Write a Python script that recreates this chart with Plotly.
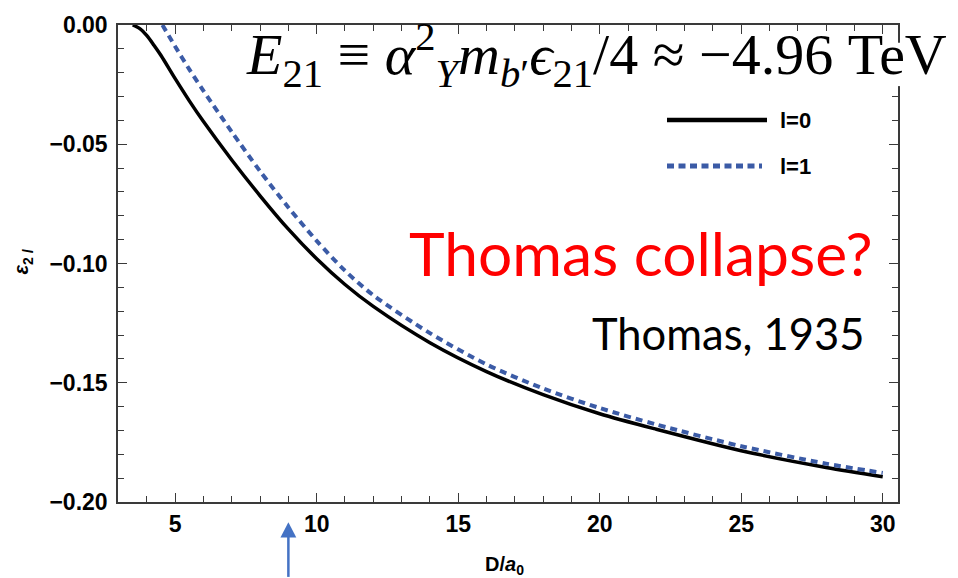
import plotly.graph_objects as go

# Lowest-level energies eps_{2l} vs separation D/a0
d_l0 = [3.5, 3.75, 4.0, 4.25, 4.5, 5.0, 5.5, 6.0, 7.0, 8.0, 9.0, 10, 11, 12, 14, 16, 18, 20,
        22, 25, 28, 30]
eps_l0 = [0.0, -0.0015, -0.0045, -0.0085, -0.0128, -0.0225, -0.0318, -0.0405, -0.0566,
          -0.0716, -0.0856, -0.0980, -0.1088, -0.1180, -0.1332, -0.1453, -0.1550, -0.1630,
          -0.1695, -0.1785, -0.1855, -0.1894]

d_l1 = [4.55, 5.0, 5.5, 6.0, 7.0, 8.0, 9.0, 10, 11, 12, 14, 16, 18, 20, 22, 25, 28, 30]
eps_l1 = [0.0, -0.0090, -0.0186, -0.0276, -0.0448, -0.0613, -0.0765, -0.0905, -0.1030,
          -0.1133, -0.1292, -0.1423, -0.1524, -0.1606, -0.1675, -0.1766, -0.1839, -0.1878]

x_ticks = [5, 10, 15, 20, 25, 30]
y_ticks = [0.0, -0.05, -0.10, -0.15, -0.20]
y_tick_text = ["0.00", "\u22120.05", "\u22120.10", "\u22120.15", "\u22120.20"]

marked_d = 9.0  # separation marked with the arrow under the axis

BLUE = "#3b5ba6"
ARROW = "#4472c4"
AXIS = "#3a3a3a"

W, H = 958, 578
ML, MR, MT, MB = 118, 60, 18, 76
PW, PH = W - ML - MR, H - MT - MB


def px(xp):
    return (xp - ML) / PW


def py(yp):
    return (H - MB - yp) / PH


fig = go.Figure()
fig.add_trace(go.Scatter(x=d_l0, y=eps_l0, mode="lines", name="l=0",
                         line=dict(color="black", width=3.5, shape="spline", smoothing=0.8)))
fig.add_trace(go.Scatter(x=d_l1, y=eps_l1, mode="lines", name="l=1",
                         line=dict(color=BLUE, width=4, dash="7px,5px", shape="spline", smoothing=0.8)))

tickfont = dict(family="Liberation Sans, Arial", size=23, color="black")
axis_common = dict(showline=True, linecolor=AXIS, linewidth=1.5, mirror="ticks",
                   ticks="inside", ticklen=9, tickwidth=1.3, tickcolor=AXIS,
                   showgrid=False, zeroline=False, tickfont=tickfont)

fig.update_xaxes(range=[2.98, 30.54], tickmode="array", tickvals=x_ticks,
                 ticktext=[f"<b>{v}</b>" for v in x_ticks], ticklabelstandoff=1,
                 minor=dict(dtick=1, tick0=0, ticks="inside", ticklen=6, tickcolor=AXIS, tickwidth=1.2),
                 **axis_common)
fig.update_yaxes(range=[-0.2, 0.0], tickmode="array", tickvals=y_ticks,
                 ticktext=[f"<b>{t}</b>" for t in y_tick_text], ticklabelstandoff=4,
                 minor=dict(dtick=0.01, tick0=0, ticks="inside", ticklen=6, tickcolor=AXIS, tickwidth=1.2),
                 **axis_common)

shapes = [
    # hand-drawn legend samples
    dict(type="line", xref="paper", yref="paper", x0=px(667), x1=px(767), y0=py(114.5), y1=py(114.5),
         line=dict(color="black", width=4.5)),
    dict(type="line", xref="paper", yref="paper", x0=px(667), x1=px(762), y0=py(161), y1=py(161),
         line=dict(color=BLUE, width=5, dash="7px,4.5px")),
    # white patch behind the formula where it crosses the right frame
    dict(type="rect", xref="paper", yref="paper", x0=px(890), x1=px(905), y0=py(80), y1=py(36),
         fillcolor="white", line=dict(width=0), layer="above"),
    # arrow under the axis
    dict(type="line", xref="x", yref="paper", x0=marked_d, x1=marked_d, y0=py(578), y1=py(536),
         line=dict(color=ARROW, width=2.5)),
    dict(type="path", xref="x", yref="paper",
         path=f"M {marked_d - 0.28} {py(538)} L {marked_d} {py(522.5)} L {marked_d + 0.28} {py(538)} Z",
         fillcolor=ARROW, line=dict(color=ARROW, width=0)),
]

annotations = [
    dict(text="<b>l=0</b>", xref="paper", yref="paper", x=px(778), y=py(115), xanchor="left",
         yanchor="middle", showarrow=False, font=dict(family="Liberation Sans, Arial", size=22, color="black")),
    dict(text="<b>l=1</b>", xref="paper", yref="paper", x=px(778), y=py(162), xanchor="left",
         yanchor="middle", showarrow=False, font=dict(family="Liberation Sans, Arial", size=22, color="black")),
    dict(text="<b>D/<i>a</i><sub>0</sub></b>", xref="paper", yref="paper", x=px(504), y=py(566),
         xanchor="center", yanchor="middle", showarrow=False,
         font=dict(family="Liberation Sans, Arial", size=20, color="black")),
    dict(text="<b><i>ε</i><sub>2 <i>l</i></sub></b>", xref="paper", yref="paper", x=px(23), y=py(258),
         xanchor="center", yanchor="middle", textangle=-90, showarrow=False,
         font=dict(family="Liberation Sans, Arial", size=20, color="black")),
    dict(text="<i>E</i><sub>21</sub> \u2261 <i>α</i><sup>2</sup><sub><i>Y</i></sub><i>m</i><sub><i>b</i>\u2032</sub>"
              "<i>ϵ</i><sub>21</sub>/4 \u2248 \u22124.96 TeV",
         xref="paper", yref="paper", x=px(596), y=py(48), xanchor="center", yanchor="middle",
         showarrow=False,
         font=dict(family="Liberation Serif, Times New Roman, serif", size=58, color="black")),
    dict(text="Thomas collapse?", xref="paper", yref="paper", x=px(875), y=py(249), xanchor="right",
         yanchor="middle", showarrow=False, font=dict(family="Lato", size=60.5, color="#ff0000")),
    dict(text="Thomas, 1935", xref="paper", yref="paper", x=px(866), y=py(331), xanchor="right",
         yanchor="middle", showarrow=False, font=dict(family="Lato", size=43.5, color="black")),
]

fig.update_layout(width=W, height=H, margin=dict(l=ML, r=MR, t=MT, b=MB),
                  plot_bgcolor="white", paper_bgcolor="white", showlegend=False,
                  shapes=shapes, annotations=annotations)

fig.write_html("out.html")
